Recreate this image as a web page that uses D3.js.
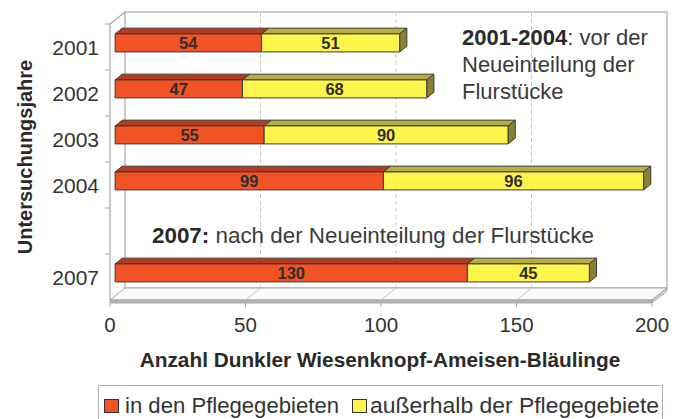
<!DOCTYPE html>
<html><head><meta charset="utf-8">
<script src="https://cdn.jsdelivr.net/npm/d3@7"></script>
<style>html,body{margin:0;padding:0;background:#fff;}svg{display:block;}</style>
</head><body>
<svg id="c" width="687" height="419"></svg>
<script>
const categories = ["2001","2002","2003","2004","","2007"];
const years = ["2001","2002","2003","2004","2007"];
const inside = [54, 47, 55, 99, 130];
const outside = [51, 68, 90, 96, 45];
const seriesNames = ["in den Pflegegebieten", "außerhalb der Pflegegebiete"];
const xTicks = [0, 50, 100, 150, 200];

const svg = d3.select("#c");
const FONT = "'Liberation Sans', Arial, sans-serif";
const x = d3.scaleLinear().domain([0, 200]).range([110, 652]);
const y = d3.scaleBand().domain(categories).range([24, 300]).paddingInner(0).paddingOuter(0);
const DX = 15, DY = -12;            // full depth offset
const f1 = 0.34, f2 = 0.82;          // bar depth positions
const floorY = 300, wallTop = 12;

const gridCol = "#a8a8a8";
// back wall
svg.append("rect").attr("x", x(0)+DX).attr("y", wallTop)
  .attr("width", x(200)-x(0)).attr("height", floorY+DY-wallTop)
  .attr("fill", "#fff").attr("stroke", gridCol).attr("stroke-width", 1.2);
// back wall gridlines
xTicks.slice(1, -1).forEach(t => {
  svg.append("line").attr("x1", x(t)+DX).attr("x2", x(t)+DX)
    .attr("y1", wallTop).attr("y2", floorY+DY)
    .attr("stroke", "#c8c8c8").attr("stroke-dasharray", "4,3").attr("stroke-width", 1);
});
// left side wall outline
svg.append("path").attr("d", `M${x(0)},${floorY} L${x(0)},${wallTop-DY} L${x(0)+DX},${wallTop}`)
  .attr("fill", "none").attr("stroke", gridCol).attr("stroke-width", 1.2);
// left ticks
categories.forEach(c => {
  const yy = y(c);
  svg.append("line").attr("x1", x(0)-5).attr("x2", x(0)).attr("y1", yy).attr("y2", yy)
    .attr("stroke", gridCol).attr("stroke-width", 1);
});
// floor slab
const th = 3;
svg.append("path")
  .attr("d", `M${x(0)},${floorY} L${x(200)},${floorY} L${x(200)+DX},${floorY+DY} L${x(0)+DX},${floorY+DY} Z`)
  .attr("fill", "#fbfbfb").attr("stroke", gridCol).attr("stroke-width", 1);
svg.append("path")
  .attr("d", `M${x(0)},${floorY} L${x(200)},${floorY} L${x(200)},${floorY+th} L${x(0)},${floorY+th} Z`)
  .attr("fill", "#b8b8b8").attr("stroke", "#9a9a9a").attr("stroke-width", 0.8);
svg.append("path")
  .attr("d", `M${x(200)},${floorY} L${x(200)+DX},${floorY+DY} L${x(200)+DX},${floorY+DY+th} L${x(200)},${floorY+th} Z`)
  .attr("fill", "#d0d0d0").attr("stroke", "#9a9a9a").attr("stroke-width", 0.8);
// floor gridlines + ticks
xTicks.slice(1, -1).forEach(t => {
  svg.append("line").attr("x1", x(t)).attr("x2", x(t)+DX).attr("y1", floorY).attr("y2", floorY+DY)
    .attr("stroke", "#c8c8c8").attr("stroke-width", 1);
});
xTicks.forEach(t => {
  svg.append("line").attr("x1", x(t)).attr("x2", x(t)).attr("y1", floorY+th).attr("y2", floorY+th+4)
    .attr("stroke", gridCol).attr("stroke-width", 1);
});

// bars
const colors = {
  a: {front: "#f25325", top: "#b93a1c", side: "#9c3016"},
  b: {front: "#fdf44c", top: "#b9ad3c", side: "#8a8133"}
};
const bh = 18;
function box(v0, v1, cy, col, drawSide) {
  const ox = DX*f1, oy = DY*f1;
  const dx = DX*(f2-f1), dy = DY*(f2-f1);
  const x0 = x(v0)+ox, x1 = x(v1)+ox;
  const yT = cy+oy-bh/2, yB = cy+oy+bh/2;
  const g = svg.append("g").attr("stroke", "#3a3a3a").attr("stroke-width", 1).attr("stroke-linejoin", "round");
  g.append("path").attr("d", `M${x0},${yT} L${x0+dx},${yT+dy} L${x1+dx},${yT+dy} L${x1},${yT} Z`).attr("fill", col.top);
  if (drawSide) g.append("path").attr("d", `M${x1},${yT} L${x1+dx},${yT+dy} L${x1+dx},${yB+dy} L${x1},${yB} Z`).attr("fill", col.side);
  g.append("rect").attr("x", x0).attr("y", yT).attr("width", x1-x0).attr("height", bh).attr("fill", col.front);
  return {cx: (x0+x1)/2, cy: cy+oy};
}
years.forEach((yr, i) => {
  const cy = y(yr) + y.bandwidth()/2;
  const a = box(0, inside[i], cy, colors.a, false);
  const b = box(inside[i], inside[i]+outside[i], cy, colors.b, true);
  [[a, inside[i]], [b, outside[i]]].forEach(([p, v]) => {
    svg.append("text").attr("x", p.cx).attr("y", p.cy).attr("dy", "0.36em")
      .attr("text-anchor", "middle").attr("font-family", FONT).attr("font-weight", "bold")
      .attr("font-size", 16.5).attr("fill", "#2e2e2e").text(v);
  });
});

// y labels
years.forEach(yr => {
  svg.append("text").attr("x", 99).attr("y", y(yr)+y.bandwidth()/2).attr("dy", "0.36em")
    .attr("text-anchor", "end").attr("font-family", FONT).attr("font-size", 21)
    .attr("fill", "#333").text(yr);
});
// x tick labels
xTicks.forEach(t => {
  svg.append("text").attr("x", x(t)).attr("y", 332).attr("text-anchor", "middle")
    .attr("font-family", FONT).attr("font-size", 20.5).attr("fill", "#333").text(t);
});
// axis titles
svg.append("text").attr("x", 380).attr("y", 367).attr("text-anchor", "middle")
  .attr("font-family", FONT).attr("font-weight", "bold").attr("font-size", 20.8).attr("fill", "#2a2a2a")
  .text("Anzahl Dunkler Wiesenknopf-Ameisen-Bläulinge");
svg.append("text").attr("transform", "translate(32,157) rotate(-90)").attr("text-anchor", "middle")
  .attr("font-family", FONT).attr("font-weight", "bold").attr("font-size", 20).attr("fill", "#2a2a2a")
  .text("Untersuchungsjahre");

// annotations
function ann(xx, yy, size, bold, rest) {
  const t = svg.append("text").attr("x", xx).attr("y", yy).attr("font-family", FONT)
    .attr("font-size", size).attr("fill", "#3a3a3a");
  if (bold) t.append("tspan").attr("font-weight", "bold").attr("fill", "#2a2a2a").text(bold);
  t.append("tspan").text(rest);
}
ann(462, 45, 22, "2001-2004", ": vor der");
ann(462, 72, 22, null, "Neueinteilung der");
ann(462, 99, 22, null, "Flurstücke");
ann(152, 243, 22.4, "2007:", " nach der Neueinteilung der Flurstücke");

// legend
svg.append("rect").attr("x", 98.5).attr("y", 385.5).attr("width", 564).attr("height", 40)
  .attr("fill", "#fff").attr("stroke", "#b0b0b0").attr("stroke-width", 1);
const lx = [104, 352];
const lw = [214, 289];
seriesNames.forEach((n, i) => {
  svg.append("rect").attr("x", lx[i]+0.5).attr("y", 399.5).attr("width", 14).attr("height", 13)
    .attr("fill", i === 0 ? colors.a.front : colors.b.front).attr("stroke", "#333").attr("stroke-width", 1);
  svg.append("text").attr("x", lx[i]+(i === 0 ? 21 : 18)).attr("y", 413).attr("font-family", FONT)
    .attr("font-size", 22).attr("fill", "#333")
    .attr("textLength", lw[i]).attr("lengthAdjust", "spacingAndGlyphs").text(n);
});
</script>
</body></html>
